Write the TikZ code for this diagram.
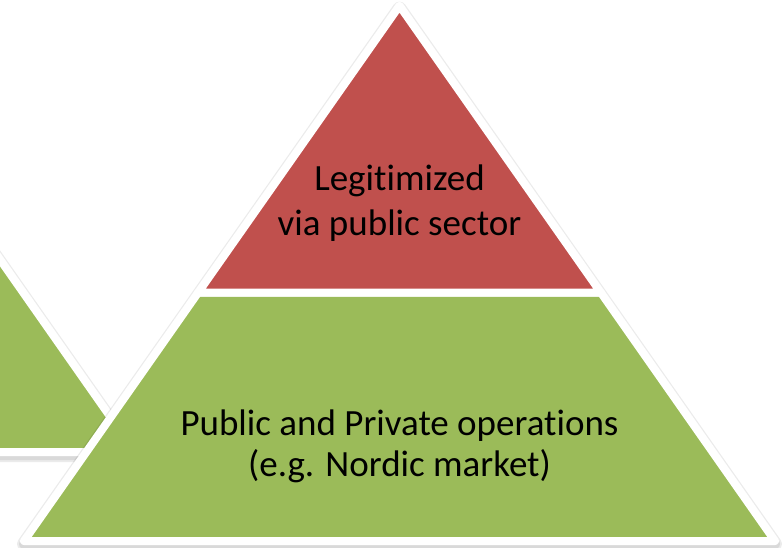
\documentclass[tikz,border=0pt]{standalone}
\usepackage{fontspec}
\setmainfont{Carlito}[Ligatures=NoCommon]
\usetikzlibrary{positioning}

\definecolor{topred}{HTML}{C0504D}
\definecolor{basegreen}{HTML}{9BBB59}

\tikzset{
    layer/.style={draw=white, line width=8pt, line join=round},
    shadowband/.style={draw=black, line width=#1, line join=round, opacity=0.08},
    toptext/.style={font=\fontsize{37}{45}\selectfont, align=center, text=black},
    basetext/.style={font=\fontsize{37}{41}\selectfont, align=center, text=black},
    pyramid/.pic={
        % soft shadow under the whole pyramid
        \begin{scope}[yshift=-3pt]
            \draw[shadowband=14pt] (24,541) -- (399.5,5.7) -- (775,541) -- cycle;
            \draw[shadowband=10pt] (24,541) -- (399.5,5.7) -- (775,541) -- cycle;
        \end{scope}
        \coordinate (-bl) at (24,541);
        \coordinate (-br) at (775,541);
        \coordinate (-ml) at (198.2,292.5);
        \coordinate (-mr) at (600.8,292.5);
        \coordinate (-ap) at (399.5,5.7);
        \draw[layer, fill=basegreen] (-bl) -- (-ml) -- (-mr) -- (-br) -- cycle;
        \draw[layer, fill=topred] (-ml) -- (-ap) -- (-mr) -- cycle;
    }
}

\begin{document}
\begin{tikzpicture}[x=1pt, y=-1pt]
    \useasboundingbox (0,0) rectangle (782,548);
    \clip (0,0) rectangle (782,548);

    \pic (back) at (-640,-89) {pyramid};
    \pic (main) at (0,0) {pyramid};

    \node[toptext] (legit) at (399.5,203) {Legit\kern0pt imized\\via public sector};
    \node[basetext] (ops) at (399.5,446) {Public and Private operat\kern0pt ions\\(e.g. Nordic market)};
\end{tikzpicture}
\end{document}
